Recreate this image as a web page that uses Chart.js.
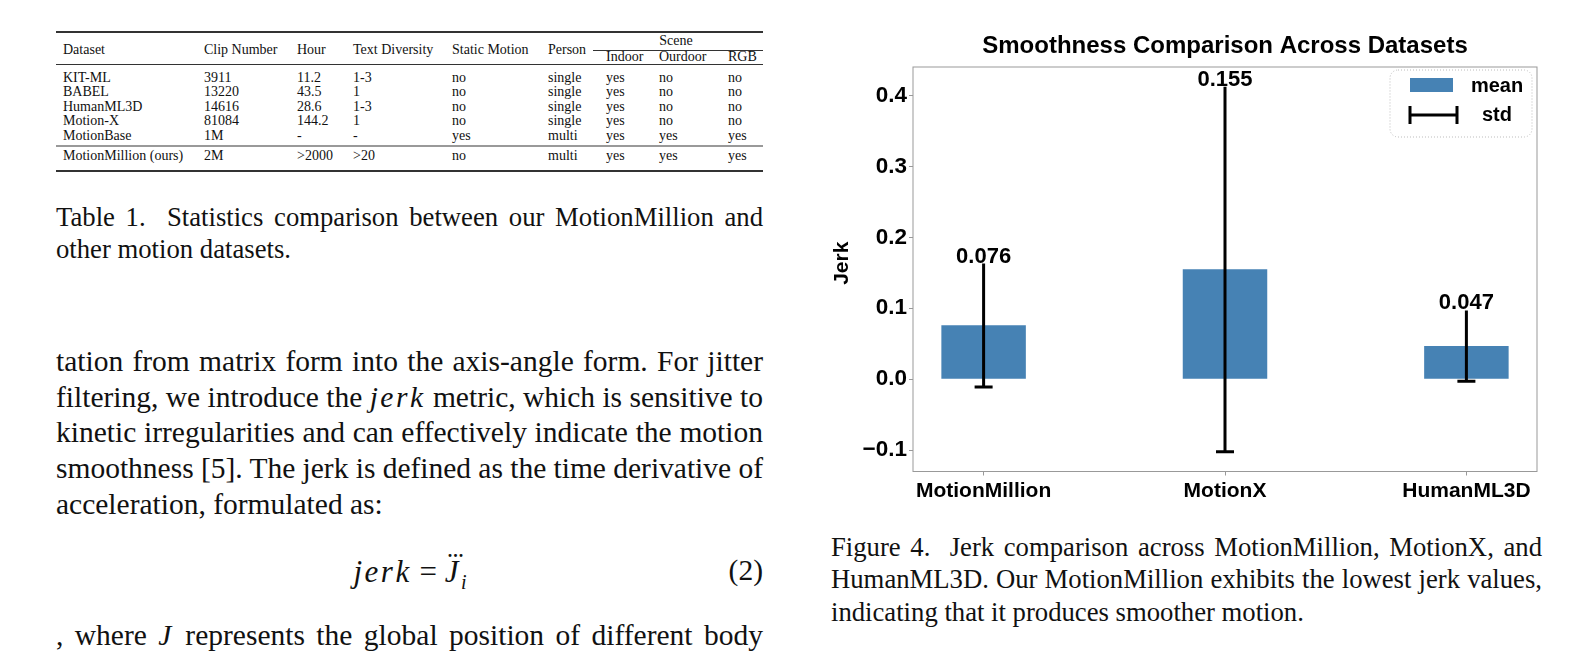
<!DOCTYPE html>
<html>
<head>
<meta charset="utf-8">
<script src="https://cdn.jsdelivr.net/npm/chart.js@4.4.1/dist/chart.umd.min.js"></script>
<style>
  html, body { margin: 0; padding: 0; background: #fff; }
  body { width: 1596px; height: 654px; position: relative; overflow: hidden;
         font-family: "Liberation Serif", "Times New Roman", serif; color: #111; }
  .ln { position: absolute; white-space: nowrap; line-height: 1; }
  .m { font-style: italic; letter-spacing: 2.5px; }
  #tbl span { position: absolute; font-size: 14px; line-height: 14px; white-space: nowrap; transform: translateY(-50%); }
  .rule { position: absolute; height: 1px; background: #333; }
  #chartBox { position: absolute; left: 800px; top: 0; width: 796px; height: 520px; }
</style>
</head>
<body>
<div id="tbl"></div>
<div id="text"></div>
<div id="chartBox"><canvas id="jerkChart" width="796" height="520"></canvas></div>

<script>
// ---- chart data ----
const categories = ['MotionMillion', 'MotionX', 'HumanML3D'];
const meanValues = [0.076, 0.155, 0.047];
const stdValues = [0.087, 0.257, 0.050];
const valueLabels = ['0.076', '0.155', '0.047'];
const yTicks = [-0.1, 0.0, 0.1, 0.2, 0.3, 0.4];
const yTickLabels = ['\u22120.1', '0.0', '0.1', '0.2', '0.3', '0.4'];
const legendLabels = ['mean', 'std'];
const yAxisTitle = 'Jerk';

// ---- table data ----
const tableHeader = ['Dataset', 'Clip Number', 'Hour', 'Text Diversity', 'Static Motion', 'Person'];
const sceneHeader = ['Indoor', 'Ourdoor', 'RGB'];
const tableRows = [
  ['KIT-ML', '3911', '11.2', '1-3', 'no', 'single', 'yes', 'no', 'no'],
  ['BABEL', '13220', '43.5', '1', 'no', 'single', 'yes', 'no', 'no'],
  ['HumanML3D', '14616', '28.6', '1-3', 'no', 'single', 'yes', 'no', 'no'],
  ['Motion-X', '81084', '144.2', '1', 'no', 'single', 'yes', 'no', 'no'],
  ['MotionBase', '1M', '-', '-', 'yes', 'multi', 'yes', 'yes', 'yes'],
  ['MotionMillion (ours)', '2M', '>2000', '>20', 'no', 'multi', 'yes', 'yes', 'yes'],
];

const BLUE = '#4682b4';
const SANS = '"Liberation Sans", Arial, sans-serif';

// ---- table ----
const tbl = document.getElementById('tbl');
const colX = [63, 204, 297, 353, 452, 548, 606, 659, 728];
const rowY = [78, 92, 107, 121, 136, 156];

function cell(txt, x, y) {
  const s = document.createElement('span');
  s.textContent = txt;
  s.style.left = x + 'px';
  s.style.top = y + 'px';
  tbl.appendChild(s);
  return s;
}
function rule(x1, x2, y, h, color) {
  const d = document.createElement('div');
  d.className = 'rule';
  d.style.left = x1 + 'px';
  d.style.width = (x2 - x1) + 'px';
  d.style.top = y + 'px';
  d.style.height = h + 'px';
  if (color) d.style.background = color;
  tbl.appendChild(d);
}
tableHeader.forEach((h, i) => cell(h, colX[i], 50));
const scene = cell('Scene', 0, 41);
scene.style.left = '676px';
scene.style.transform = 'translate(-50%,-50%)';
sceneHeader.forEach((h, i) => cell(h, colX[6 + i], 57));
tableRows.forEach((r, ri) => r.forEach((v, ci) => cell(v, colX[ci], rowY[ri])));
rule(56, 763, 31, 1.5);
rule(593, 763, 49.5, 1);
rule(56, 763, 64, 1);
rule(56, 763, 145, 2, '#999');
rule(56, 763, 170, 1.5);

// ---- text blocks ----
const textBox = document.getElementById('text');
function addLine(html, left, width, centerY, size, justify) {
  const d = document.createElement('div');
  d.className = 'ln';
  d.style.left = left + 'px';
  d.style.top = (centerY - size / 2) + 'px';
  d.style.fontSize = size + 'px';
  d.innerHTML = '<span>' + html + '</span>';
  textBox.appendChild(d);
  if (justify) {
    const w = d.firstChild.getBoundingClientRect().width;
    const n = (d.textContent.match(/[ \u00a0]/g) || []).length;
    if (n) d.style.wordSpacing = ((width - w) / n) + 'px';
  }
  return d;
}

const tableCaption = [
  'Table 1.&nbsp; Statistics comparison between our MotionMillion and',
  'other motion datasets.',
];
const bodyLines = [
  'tation from matrix form into the axis-angle form. For jitter',
  'filtering, we introduce the <span class="m">jerk</span> metric, which is sensitive to',
  'kinetic irregularities and can effectively indicate the motion',
  'smoothness [5]. The jerk is defined as the time derivative of',
  'acceleration, formulated as:',
];
const lastLine = ', where <span class="m">J</span> represents the global position of different body';
const figCaption = [
  'Figure 4.&nbsp; Jerk comparison across MotionMillion, MotionX, and',
  'HumanML3D. Our MotionMillion exhibits the lowest jerk values,',
  'indicating that it produces smoother motion.',
];

tableCaption.forEach((t, i) => addLine(t, 56, 707, 217 + i * 32.6, 26.7, i === 0));
bodyLines.forEach((t, i) => addLine(t, 56, 707, 362 + i * 35.6, 29.5, i < 4));
addLine(lastLine, 56, 707, 636, 29.5, true);
figCaption.forEach((t, i) => addLine(t, 831, 711, 547 + i * 32.6, 26.7, i < 2));

// equation
const eq = addLine('<span class="m">jerk</span> = <span style="position:relative"><span class="m">J</span>' +
  '<span style="position:absolute;left:3px;top:-12px;font-size:18px;letter-spacing:1px;font-weight:bold">...</span></span>' +
  '<sub style="font-size:20px;font-style:italic">i</sub>', 0, 0, 571, 31, false);
eq.style.left = (410 - eq.firstChild.getBoundingClientRect().width / 2) + 'px';
const eqNum = addLine('(2)', 0, 0, 571, 29.5, false);
eqNum.style.left = (763 - eqNum.firstChild.getBoundingClientRect().width) + 'px';

// ---- chart plugins ----
const frame = {
  id: 'frame',
  afterDraw(chart) {
    const { ctx, chartArea: a } = chart;
    ctx.save();
    ctx.strokeStyle = '#999';
    ctx.lineWidth = 1;
    ctx.strokeRect(a.left, a.top, a.right - a.left, a.bottom - a.top);
    // y axis title, slightly above the axis centre as in the source figure
    ctx.translate(42, (a.top + a.bottom) / 2 - 6);
    ctx.rotate(-Math.PI / 2);
    ctx.fillStyle = '#000';
    ctx.font = 'bold 21px ' + SANS;
    ctx.textAlign = 'center';
    ctx.textBaseline = 'middle';
    ctx.fillText(yAxisTitle, 0, 0);
    ctx.restore();
  }
};

const errorBars = {
  id: 'errorBars',
  afterDatasetsDraw(chart) {
    const { ctx, scales: { x, y } } = chart;
    ctx.save();
    meanValues.forEach((m, i) => {
      const px = x.getPixelForValue(i);
      const lo = y.getPixelForValue(m - stdValues[i]);
      const hi = y.getPixelForValue(m + stdValues[i]);
      ctx.strokeStyle = '#000';
      ctx.lineWidth = 3;
      ctx.beginPath();
      ctx.moveTo(px, hi);
      ctx.lineTo(px, lo);
      ctx.moveTo(px - 9, lo);
      ctx.lineTo(px + 9, lo);
      ctx.stroke();
      ctx.fillStyle = '#000';
      ctx.font = 'bold 22px ' + SANS;
      ctx.textAlign = 'center';
      ctx.textBaseline = 'alphabetic';
      ctx.fillText(valueLabels[i], px, hi - 1);
    });
    ctx.restore();
  }
};

const boxLegend = {
  id: 'boxLegend',
  afterDraw(chart) {
    const { ctx, chartArea: a } = chart;
    const bx = a.right - 147, by = a.top + 3, bw = 142, bh = 67;
    ctx.save();
    ctx.fillStyle = 'rgba(255,255,255,0.8)';
    ctx.strokeStyle = '#bbb';
    ctx.lineWidth = 1;
    ctx.setLineDash([1, 2]);
    ctx.beginPath();
    ctx.roundRect(bx, by, bw, bh, 8);
    ctx.fill();
    ctx.stroke();
    ctx.setLineDash([]);
    // mean patch
    ctx.fillStyle = BLUE;
    ctx.fillRect(bx + 20, by + 8, 43, 14);
    // std symbol
    ctx.strokeStyle = '#000';
    ctx.lineWidth = 3;
    ctx.beginPath();
    ctx.moveTo(bx + 20, by + 45); ctx.lineTo(bx + 67, by + 45);
    ctx.moveTo(bx + 20, by + 36); ctx.lineTo(bx + 20, by + 54);
    ctx.moveTo(bx + 67, by + 36); ctx.lineTo(bx + 67, by + 54);
    ctx.stroke();
    ctx.fillStyle = '#000';
    ctx.font = 'bold 20px ' + SANS;
    ctx.textAlign = 'center';
    ctx.textBaseline = 'middle';
    ctx.fillText(legendLabels[0], bx + 107, by + 16);
    ctx.fillText(legendLabels[1], bx + 107, by + 45);
    ctx.restore();
  }
};

// ---- chart ----
new Chart(document.getElementById('jerkChart').getContext('2d'), {
  type: 'bar',
  data: {
    datasets: [{
      label: legendLabels[0],
      data: categories.map((c, i) => ({ x: i, y: meanValues[i] })),
      backgroundColor: BLUE,
      borderWidth: 0,
      barPercentage: 0.35,
      categoryPercentage: 1,
    }]
  },
  options: {
    responsive: false,
    animation: false,
    layout: { padding: { left: 0, right: 59, top: 0, bottom: 0 } },
    plugins: {
      legend: { display: false },
      tooltip: { enabled: false },
      title: {
        display: true,
        fullSize: false,
        text: 'Smoothness Comparison Across Datasets',
        color: '#000',
        font: { family: SANS, size: 24, weight: 'bold' },
        padding: { top: 32, bottom: 6.2 },
      },
    },
    scales: {
      x: {
        type: 'linear',
        offset: false,
        min: -0.2925,
        max: 2.2925,
        afterBuildTicks: s => { s.ticks = categories.map((c, i) => ({ value: i })); },
        afterFit: s => { s.height = 48.5; },
        ticks: {
          autoSkip: false,
          maxRotation: 0,
          padding: 3,
          color: '#000',
          font: { family: SANS, size: 21, weight: 'bold' },
          callback: v => categories[v],
        },
        grid: { offset: false, drawOnChartArea: false, drawTicks: true, tickLength: 4, color: '#999' },
        border: { display: false },
      },
      y: {
        min: -0.13,
        max: 0.44,
        afterBuildTicks: s => { s.ticks = yTicks.map(v => ({ value: v })); },
        afterFit: s => { s.width = 113; },
        ticks: {
          padding: 2,
          color: '#000',
          font: { family: SANS, size: 22.5, weight: 'bold' },
          callback: (v, i) => yTickLabels[i],
        },
        grid: { drawOnChartArea: false, drawTicks: true, tickLength: 4, color: '#999' },
        border: { display: false },
      },
    },
  },
  plugins: [frame, errorBars, boxLegend],
});
</script>
</body>
</html>
